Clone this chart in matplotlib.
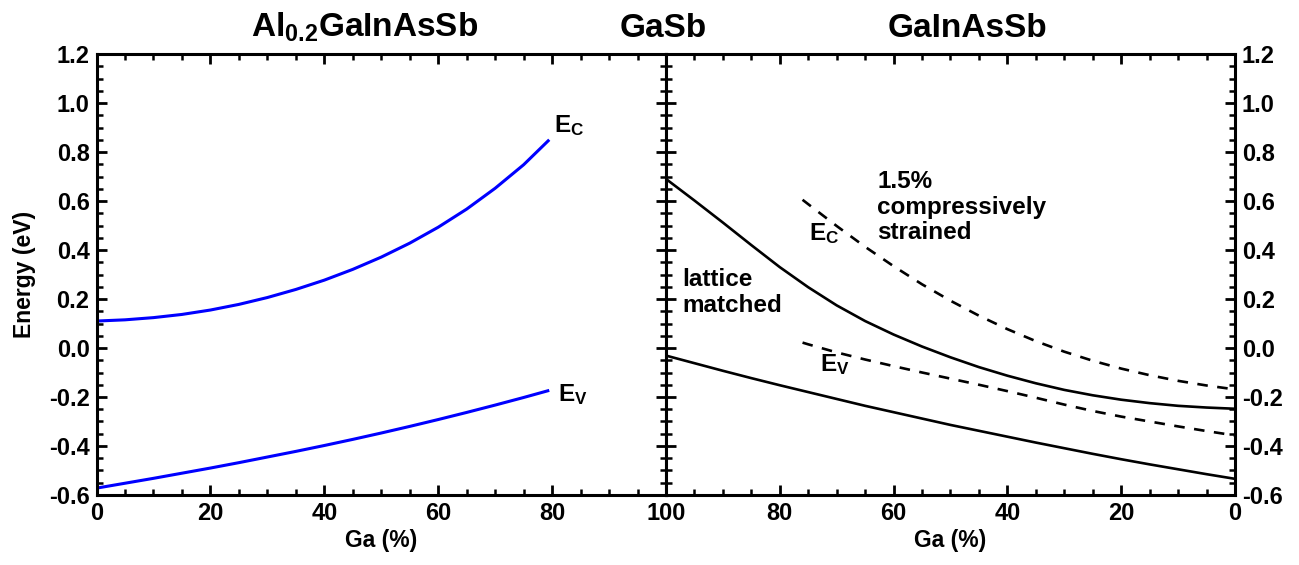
import matplotlib
matplotlib.use("Agg")
import matplotlib.pyplot as plt
from matplotlib.ticker import MultipleLocator

plt.rcParams['font.family'] = ['Liberation Sans', 'DejaVu Sans']
plt.rcParams['font.weight'] = 'bold'
plt.rcParams['mathtext.fontset'] = 'custom'
plt.rcParams['mathtext.rm'] = 'Liberation Sans:bold'
plt.rcParams['mathtext.bf'] = 'Liberation Sans:bold'
plt.rcParams['mathtext.it'] = 'Liberation Sans:bold'
plt.rcParams['mathtext.default'] = 'bf'

# Al0.2GaInAsSb band edges vs Ga content
ga_left = [0, 5, 10, 15, 20, 25, 30, 35, 40, 45, 50, 55, 60, 65, 70, 75, 79.5]
ec_left = [0.110, 0.115, 0.124, 0.137, 0.155, 0.178, 0.206, 0.239, 0.277, 0.321,
           0.371, 0.428, 0.493, 0.567, 0.652, 0.748, 0.850]
ev_left = [-0.572, -0.552, -0.532, -0.511, -0.490, -0.468, -0.445, -0.422, -0.398,
           -0.373, -0.347, -0.320, -0.292, -0.263, -0.233, -0.202, -0.173]

# GaInAsSb lattice matched to GaSb
ga_lm = [100, 95, 90, 85, 80, 75, 70, 65, 60, 55, 50, 45, 40, 35, 30, 25, 20, 15, 10, 5, 0]
ec_lm = [0.690, 0.602, 0.512, 0.420, 0.330, 0.248, 0.174, 0.110, 0.055, 0.006, -0.038,
         -0.078, -0.113, -0.144, -0.171, -0.193, -0.211, -0.225, -0.236, -0.243, -0.248]
ev_lm = [-0.031, -0.062, -0.093, -0.123, -0.152, -0.180, -0.208, -0.236, -0.262, -0.288,
         -0.314, -0.338, -0.362, -0.386, -0.409, -0.432, -0.454, -0.475, -0.495, -0.515, -0.534]

# GaInAsSb, 1.5% compressive strain
ga_cs = [76, 75, 70, 65, 60, 55, 50, 45, 40, 35, 30, 25, 20, 15, 10, 5, 0]
ec_cs = [0.605, 0.587, 0.498, 0.413, 0.334, 0.260, 0.193, 0.132, 0.077, 0.028, -0.015,
         -0.052, -0.084, -0.111, -0.134, -0.153, -0.169]
ev_cs = [0.022, 0.015, -0.018, -0.047, -0.074, -0.100, -0.125, -0.150, -0.176, -0.203,
         -0.231, -0.257, -0.280, -0.300, -0.320, -0.339, -0.357]

x_ticks_left = [0, 20, 40, 60, 80, 100]
x_ticks_right = [100, 80, 60, 40, 20, 0]
y_ticks = [-0.6, -0.4, -0.2, 0.0, 0.2, 0.4, 0.6, 0.8, 1.0, 1.2]

TICK_FS = 17
LABEL_FS = 16.5
ANN_FS = 17.5
TITLE_FS = 24

fig = plt.figure(figsize=(12.99, 5.65), dpi=100)
ax1 = fig.add_axes([0.0743, 0.1239, 0.4384, 0.7805])
ax2 = fig.add_axes([0.5127, 0.1239, 0.4380, 0.7805])

for ax in (ax1, ax2):
    ax.set_ylim(-0.6, 1.2)
    ax.set_yticks(y_ticks)
    ax.yaxis.set_minor_locator(MultipleLocator(0.05))
    ax.xaxis.set_minor_locator(MultipleLocator(5))
    ax.tick_params(which='both', direction='in', top=True, bottom=True,
                   left=True, right=True, width=2, labelsize=TICK_FS, pad=5)
    ax.tick_params(which='major', length=7)
    ax.tick_params(which='minor', length=4, width=1.8)
    for sp in ax.spines.values():
        sp.set_linewidth(2.2)
    ax.set_xlabel('Ga (%)', fontsize=LABEL_FS, fontweight='bold', labelpad=3)

# left panel
ax1.set_xlim(0, 100)
ax1.set_xticks(x_ticks_left)
ax1.set_yticklabels(['%.1f' % v for v in y_ticks])
ax1.tick_params(labelleft=True, labelright=False)
ax1.set_ylabel('Energy (eV)', fontsize=LABEL_FS, fontweight='bold', labelpad=9)
ax1.plot(ga_left, ec_left, color='#0000ff', lw=2.2, solid_capstyle='butt')
ax1.plot(ga_left, ev_left, color='#0000ff', lw=2.2, solid_capstyle='butt')
ax1.text(80.4, 0.88, r'E$_{C}$', fontsize=ANN_FS, fontweight='bold',
         ha='left', va='baseline')
ax1.text(81.0, -0.215, r'E$_{V}$', fontsize=ANN_FS, fontweight='bold',
         ha='left', va='baseline')

# right panel
ax2.set_xlim(100, 0)
ax2.set_xticks(x_ticks_right)
ax2.set_xticklabels([''] + [str(v) for v in x_ticks_right[1:]])
ax2.set_yticklabels(['%.1f' % v for v in y_ticks])
ax2.tick_params(labelleft=False, labelright=True)
ax2.plot(ga_lm, ec_lm, color='black', lw=1.9)
ax2.plot(ga_lm, ev_lm, color='black', lw=1.9)
ax2.plot(ga_cs, ec_cs, color='black', lw=1.9, dashes=(4, 3.6))
ax2.plot(ga_cs, ev_cs, color='black', lw=1.9, dashes=(4, 3.6))
ax2.text(97.2, 0.327, 'lattice\nmatched', fontsize=ANN_FS, fontweight='bold',
         ha='left', va='top', linespacing=1.15)
ax2.text(62.9, 0.727, '1.5%\ncompressively\nstrained', fontsize=ANN_FS,
         fontweight='bold', ha='left', va='top', linespacing=1.15)
ax2.text(74.8, 0.442, r'E$_{C}$', fontsize=ANN_FS, fontweight='bold',
         ha='left', va='baseline')
ax2.text(73.0, -0.096, r'E$_{V}$', fontsize=ANN_FS, fontweight='bold',
         ha='left', va='baseline')

for ax in (ax1, ax2):
    for lab in ax.get_xticklabels() + ax.get_yticklabels():
        lab.set_fontweight('bold')

# panel titles
fig.text(0.281, 0.9345, r'Al$_{0.2}$GaInAsSb', fontsize=TITLE_FS, fontweight='bold',
         ha='center', va='baseline')
fig.text(0.5104, 0.9345, 'GaSb', fontsize=TITLE_FS, fontweight='bold',
         ha='center', va='baseline')
fig.text(0.7444, 0.9345, 'GaInAsSb', fontsize=TITLE_FS, fontweight='bold',
         ha='center', va='baseline')

fig.savefig('out.png', dpi=100)
